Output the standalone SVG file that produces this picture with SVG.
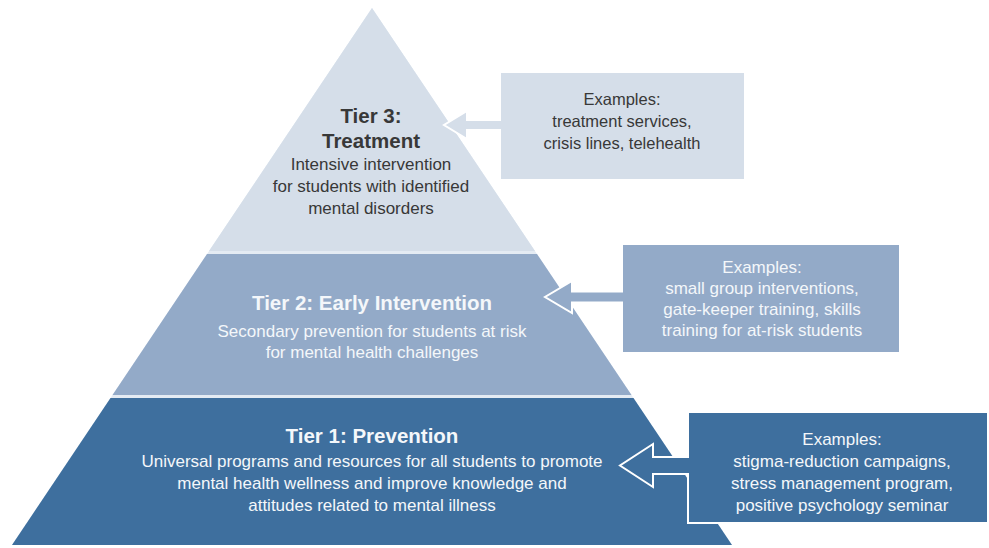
<svg xmlns="http://www.w3.org/2000/svg" width="989" height="548" viewBox="0 0 989 548">
<style>
.t{font-family:"Liberation Sans",Arial,sans-serif;text-anchor:middle}
.h{font-size:20.5px;font-weight:bold}
.b{font-size:17px}
.bs{font-size:16.5px}
.dk{fill:#383838}
.wt{fill:#f4f7fa}
.co{stroke:#ffffff;stroke-width:2;stroke-linejoin:miter}
</style>
<rect width="989" height="548" fill="#ffffff"/>
<g id="pyramid-bg">
<polygon points="372,8 732,545 12,545" fill="#e4ebf3"/>
</g>
<g id="tier3">
<polygon points="372,8 535,251 209,251" fill="#d5dee9"/>
<text class="t h dk" x="371" y="123">Tier 3:</text>
<text class="t h dk" x="371" y="148">Treatment</text>
<text class="t b dk" x="371" y="170">Intensive intervention</text>
<text class="t b dk" x="371" y="192">for students with identified</text>
<text class="t b dk" x="371" y="214">mental disorders</text>
</g>
<g id="tier2">
<polygon points="207,254 537,254 631.5,395 112.5,395" fill="#93aac8"/>
<text class="t h wt" x="372" y="310">Tier 2: Early Intervention</text>
<text class="t b wt" x="372" y="337">Secondary prevention for students at risk</text>
<text class="t b wt" x="372" y="358">for mental health challenges</text>
</g>
<g id="tier1">
<polygon points="110.5,398 633.5,398 732,545 12,545" fill="#3e6f9e"/>
<text class="t h wt" x="372" y="443">Tier 1: Prevention</text>
<text class="t b wt" x="372" y="467">Universal programs and resources for all students to promote</text>
<text class="t b wt" x="372" y="489">mental health wellness and improve knowledge and</text>
<text class="t b wt" x="372" y="511">attitudes related to mental illness</text>
</g>
<g id="connectors">
<path id="callout3" class="co" fill="#d5dee9" d="M500,72 H745 V180 H500 V130 H467 V139 L444,125 L467,111 V120 H500 Z"/>
<path id="callout2" class="co" fill="#93aac8" d="M622,244 H900 V353 H622 V302.5 H572 V313 L545,297 L572,281 V291.5 H622 Z"/>
<path id="callout1" class="co" fill="#3e6f9e" d="M688,412 H988 V523 H688 V474 H653 V487 L620,465.5 L653,444 V457 H688 Z"/>
</g>
<g id="box3">
<text class="t bs dk" x="622" y="105">Examples:</text>
<text class="t bs dk" x="622" y="127">treatment services,</text>
<text class="t bs dk" x="622" y="149">crisis lines, telehealth</text>
</g>
<g id="box2">
<text class="t b wt" x="762" y="273">Examples:</text>
<text class="t b wt" x="762" y="294">small group interventions,</text>
<text class="t b wt" x="762" y="315">gate-keeper training, skills</text>
<text class="t b wt" x="762" y="336">training for at-risk students</text>
</g>
<g id="box1">
<text class="t b wt" x="842" y="445">Examples:</text>
<text class="t b wt" x="842" y="467">stigma-reduction campaigns,</text>
<text class="t b wt" x="842" y="489">stress management program,</text>
<text class="t b wt" x="842" y="511">positive psychology seminar</text>
</g>
</svg>
